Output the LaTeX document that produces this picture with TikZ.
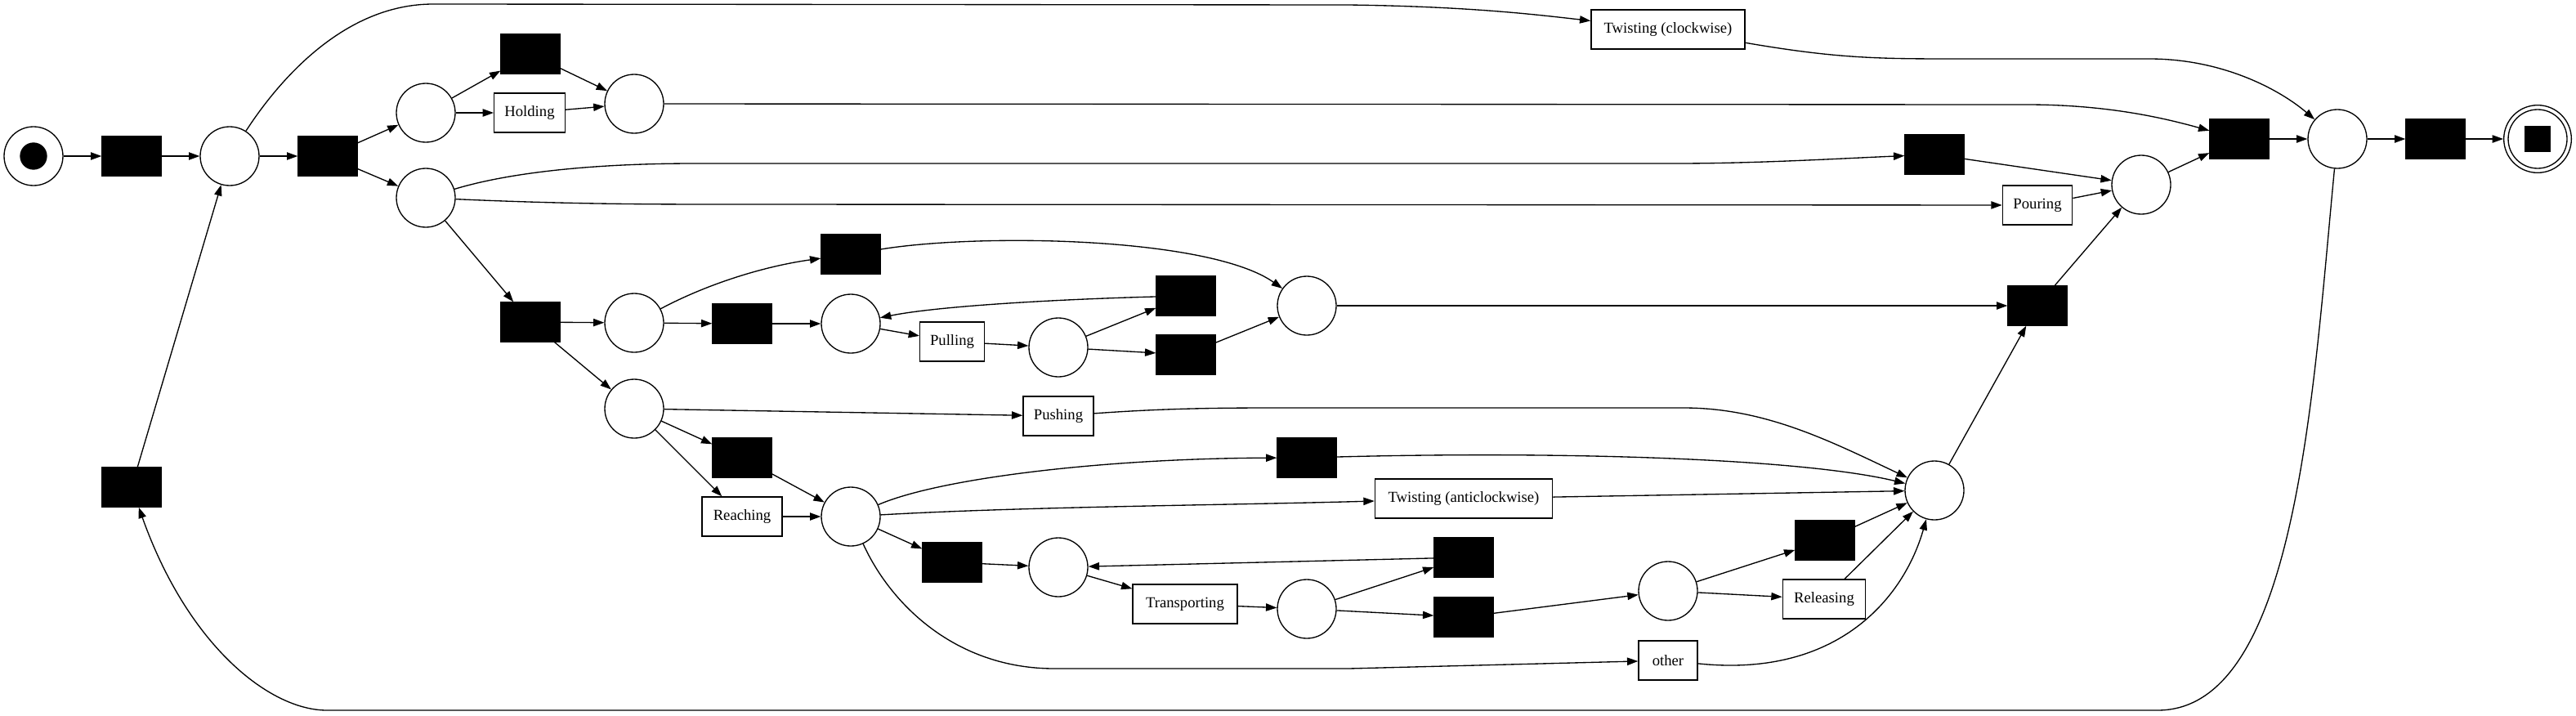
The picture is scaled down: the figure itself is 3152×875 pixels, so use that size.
\documentclass[tikz,border=0pt]{standalone}
\usepackage{fontspec}
\setmainfont{Liberation Serif}
\usetikzlibrary{arrows.meta}
\begin{document}
\begin{tikzpicture}[x=0.75pt,y=-0.75pt,line width=1pt,
  pl/.style={circle,draw,minimum size=54pt,inner sep=0pt},
  tr/.style={rectangle,draw,fill=black,minimum width=54pt,minimum height=36pt,inner sep=0pt},
  lb/.style={rectangle,draw,minimum height=36pt,inner sep=0pt,font=\fontsize{14pt}{16pt}\selectfont},
  flow/.style={-{Triangle[length=10pt,width=7pt]}}]
\useasboundingbox (0,0) rectangle (3152,875);
% places
\node[pl] (start) at (41,191) {};
\node[circle,fill=black,minimum size=25pt,inner sep=0pt] (token) at (start.center) {};
\node[pl] (p1) at (281,191) {};
\node[pl] (p2) at (521,138) {};
\node[pl] (p3) at (521,242) {};
\node[pl] (p4) at (776,127) {};
\node[pl] (p5) at (776,395) {};
\node[pl] (p6) at (776,500) {};
\node[pl] (p7) at (1041,396) {};
\node[pl] (p8) at (1295,425) {};
\node[pl] (p9) at (1599,374) {};
\node[pl] (p10) at (1041,632) {};
\node[pl] (p11) at (1295,694) {};
\node[pl] (p12) at (1599,745) {};
\node[pl] (p14) at (2041,723) {};
\node[pl] (p13) at (2367,600) {};
\node[pl] (p15) at (2620,226) {};
\node[pl] (p16) at (2860,170) {};
\node[pl,minimum size=62pt] (end) at (3105,170) {};
\node[pl] (endin) at (end.center) {};
\node[rectangle,fill=black,minimum size=24pt,inner sep=0pt] (endsq) at (end.center) {};
% silent transitions
\node[tr] (t0) at (161,191) {};
\node[tr] (t1) at (401,191) {};
\node[tr] (t3) at (649,66) {};
\node[tr] (t4) at (649,394) {};
\node[tr] (tb) at (161,596) {};
\node[tr] (t5) at (1041,311) {};
\node[tr] (t6) at (908,396) {};
\node[tr] (t7) at (1451,362) {};
\node[tr] (t8) at (1451,434) {};
\node[tr] (t9) at (908,560) {};
\node[tr] (t10) at (1599,560) {};
\node[tr] (t11) at (1165,688) {};
\node[tr] (t12) at (1791,682) {};
\node[tr] (t13) at (1791,755) {};
\node[tr] (t14) at (2233,661) {};
\node[tr] (t15) at (2367,189) {};
\node[tr] (t16) at (2493,374) {};
\node[tr] (t17) at (2740,170) {};
\node[tr] (t18) at (2980,170) {};
% labelled transitions
\node[lb,minimum width=65pt] (hold) at (648,138) {Holding};
\node[lb,minimum width=59pt] (pull) at (1165,418) {Pulling};
\node[lb,minimum width=64.5pt] (push) at (1295,509) {Pushing};
\node[lb,minimum width=73.5pt] (reach) at (908,632) {Reaching};
\node[lb,minimum width=96pt] (trans) at (1450,739) {Transporting};
\node[lb,minimum width=163pt] (twa) at (1791,610) {Twisting (anticlockwise)};
\node[lb,minimum width=141pt] (twc) at (2041,36) {Twisting (clockwise)};
\node[lb,minimum width=76pt] (rel) at (2232,733) {Releasing};
\node[lb,minimum width=54pt] (other) at (2041,808) {other};
\node[lb,minimum width=64pt] (pour) at (2493,251) {Pouring};
% arcs
\draw[flow] (start) -- (t0);
\draw[flow] (t0) -- (p1);
\draw[flow] (p1) -- (t1);
\draw[flow] (t1) -- (p2);
\draw[flow] (t1) -- (p3);
\draw[flow] (p2) -- (t3);
\draw[flow] (p2) -- (hold);
\draw[flow] (t3) -- (p4);
\draw[flow] (hold) -- (p4);
\draw[flow] (p3) -- (t4);
\draw[flow] (t4) -- (p5);
\draw[flow] (t4) -- (p6);
\draw[flow] (p5) .. controls (870,345) and (940,325) .. (t5);
\draw[flow] (p5) -- (t6);
\draw[flow] (t6) -- (p7);
\draw[flow] (p7) -- (pull);
\draw[flow] (pull) -- (p8);
\draw[flow] (p8) -- (t7);
\draw[flow] (p8) -- (t8);
\draw[flow] (t7) .. controls (1300,366) and (1150,374) .. (p7);
\draw[flow] (t8) -- (p9);
\draw[flow] (t5) .. controls (1200,285) and (1480,290) .. (p9);
\draw[flow] (p9) -- (t16);
\draw[flow] (p6) -- (push);
\draw[flow] (p6) -- (t9);
\draw[flow] (p6) -- (reach);
\draw[flow] (t9) -- (p10);
\draw[flow] (reach) -- (p10);
\draw[flow] (p10) .. controls (1150,585) and (1350,561) .. (t10);
\draw[flow] (p10) .. controls (1250,620) and (1500,618) .. (twa);
\draw[flow] (p10) -- (t11);
\draw[flow] (p10) .. controls (1090,740) and (1170,818) .. (1290,818) -- (1650,818) -- (other);
\draw[flow] (t11) -- (p11);
\draw[flow] (p11) -- (trans);
\draw[flow] (trans) -- (p12);
\draw[flow] (p12) -- (t12);
\draw[flow] (p12) -- (t13);
\draw[flow] (t12) -- (p11);
\draw[flow] (t13) -- (p14);
\draw[flow] (p14) -- (t14);
\draw[flow] (p14) -- (rel);
\draw[flow] (t14) -- (p13);
\draw[flow] (rel) -- (p13);
\draw[flow] (other) .. controls (2250,830) and (2330,730) .. (p13);
\draw[flow] (twa) -- (p13);
\draw[flow] (t10) .. controls (1900,552) and (2200,560) .. (p13);
\draw[flow] (push) .. controls (1420,500) and (1480,499) .. (1560,499) -- (2060,499) .. controls (2160,499) and (2240,540) .. (p13);
\draw[flow] (p13) -- (t16);
\draw[flow] (t16) -- (p15);
\draw[flow] (p3) .. controls (700,250) and (800,250) .. (900,250) -- (pour);
\draw[flow] (pour) -- (p15);
\draw[flow] (p3) .. controls (620,212) and (720,200) .. (850,200) -- (2050,200) .. controls (2150,200) and (2250,194) .. (t15);
\draw[flow] (t15) -- (p15);
\draw[flow] (p15) -- (t17);
\draw[flow] (p4) -- (2480,128) .. controls (2580,128) and (2650,145) .. (t17);
\draw[flow] (t17) -- (p16);
\draw[flow] (p1) .. controls (340,100) and (420,5) .. (530,5) -- (1650,6) .. controls (1800,8) and (1880,18) .. (twc);
\draw[flow] (twc) .. controls (2250,72) and (2300,72) .. (2400,72) -- (2630,72) .. controls (2720,72) and (2790,110) .. (p16);
\draw[flow] (p16) -- (t18);
\draw[flow] (t18) -- (end);
\draw[flow] (p16) .. controls (2830,480) and (2810,869) .. (2640,869) -- (400,869) .. controls (330,869) and (230,790) .. (tb);
\draw[flow] (tb) -- (p1);
\end{tikzpicture}
\end{document}
